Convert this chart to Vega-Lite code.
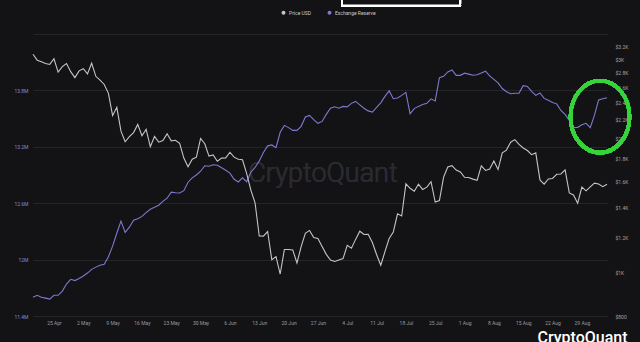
{
  "$schema": "https://vega.github.io/schema/vega-lite/v6.json",
  "width": 574,
  "height": 282,
  "autosize": "none",
  "padding": {"left": 33, "top": 34, "right": 33, "bottom": 26},
  "background": "#131316",
  "title": {
    "text": "CryptoQuant",
    "orient": "bottom",
    "anchor": "end",
    "frame": "bounds",
    "baseline": "top",
    "offset": 5,
    "dx": -9,
    "font": "Roboto",
    "fontSize": 16,
    "fontWeight": 500,
    "color": "#ffffff"
  },
  "config": {
    "view": {"stroke": null},
    "font": "Roboto",
    "axis": {"labelFont": "Roboto", "ticks": false, "domain": false, "labelFontSize": 5, "title": null},
    "legend": {
      "orient": "none",
      "legendX": 248,
      "legendY": -24,
      "direction": "horizontal",
      "title": null,
      "symbolType": "circle",
      "symbolSize": 4,
      "symbolStrokeWidth": 2,
      "labelFont": "Roboto",
      "labelFontSize": 5,
      "labelColor": "#c8c8c8",
      "labelOffset": 3,
      "columnPadding": 12
    }
  },
  "data": {
    "values": [
      {"date": "2022-04-20", "price": 3079, "reserve": 11600000},
      {"date": "2022-04-21", "price": 2987, "reserve": 11620000},
      {"date": "2022-04-22", "price": 2964, "reserve": 11600000},
      {"date": "2022-04-23", "price": 2937, "reserve": 11590000},
      {"date": "2022-04-24", "price": 2922, "reserve": 11580000},
      {"date": "2022-04-25", "price": 3009, "reserve": 11620000},
      {"date": "2022-04-26", "price": 2808, "reserve": 11620000},
      {"date": "2022-04-27", "price": 2889, "reserve": 11665000},
      {"date": "2022-04-28", "price": 2936, "reserve": 11740000},
      {"date": "2022-04-29", "price": 2815, "reserve": 11790000},
      {"date": "2022-04-30", "price": 2730, "reserve": 11777000},
      {"date": "2022-05-01", "price": 2827, "reserve": 11798000},
      {"date": "2022-05-02", "price": 2858, "reserve": 11825000},
      {"date": "2022-05-03", "price": 2784, "reserve": 11857000},
      {"date": "2022-05-04", "price": 2940, "reserve": 11896000},
      {"date": "2022-05-05", "price": 2749, "reserve": 11920000},
      {"date": "2022-05-06", "price": 2695, "reserve": 11940000},
      {"date": "2022-05-07", "price": 2636, "reserve": 11950000},
      {"date": "2022-05-08", "price": 2518, "reserve": 12030000},
      {"date": "2022-05-09", "price": 2245, "reserve": 12143000},
      {"date": "2022-05-10", "price": 2343, "reserve": 12280000},
      {"date": "2022-05-11", "price": 2072, "reserve": 12410000},
      {"date": "2022-05-12", "price": 1962, "reserve": 12290000},
      {"date": "2022-05-13", "price": 2014, "reserve": 12345000},
      {"date": "2022-05-14", "price": 2057, "reserve": 12420000},
      {"date": "2022-05-15", "price": 2146, "reserve": 12435000},
      {"date": "2022-05-16", "price": 2024, "reserve": 12460000},
      {"date": "2022-05-17", "price": 2091, "reserve": 12500000},
      {"date": "2022-05-18", "price": 1913, "reserve": 12536000},
      {"date": "2022-05-19", "price": 2017, "reserve": 12557000},
      {"date": "2022-05-20", "price": 1958, "reserve": 12578000},
      {"date": "2022-05-21", "price": 1975, "reserve": 12620000},
      {"date": "2022-05-22", "price": 2044, "reserve": 12653000},
      {"date": "2022-05-23", "price": 1972, "reserve": 12717000},
      {"date": "2022-05-24", "price": 1978, "reserve": 12711000},
      {"date": "2022-05-25", "price": 1946, "reserve": 12709000},
      {"date": "2022-05-26", "price": 1804, "reserve": 12733000},
      {"date": "2022-05-27", "price": 1725, "reserve": 12823000},
      {"date": "2022-05-28", "price": 1793, "reserve": 12870000},
      {"date": "2022-05-29", "price": 1813, "reserve": 12900000},
      {"date": "2022-05-30", "price": 1996, "reserve": 12940000},
      {"date": "2022-05-31", "price": 1942, "reserve": 12998000},
      {"date": "2022-06-01", "price": 1823, "reserve": 12993000},
      {"date": "2022-06-02", "price": 1834, "reserve": 13009000},
      {"date": "2022-06-03", "price": 1775, "reserve": 13003000},
      {"date": "2022-06-04", "price": 1804, "reserve": 12977000},
      {"date": "2022-06-05", "price": 1806, "reserve": 12950000},
      {"date": "2022-06-06", "price": 1859, "reserve": 12920000},
      {"date": "2022-06-07", "price": 1813, "reserve": 12855000},
      {"date": "2022-06-08", "price": 1793, "reserve": 12826000},
      {"date": "2022-06-09", "price": 1789, "reserve": 12870000},
      {"date": "2022-06-10", "price": 1665, "reserve": 12828000},
      {"date": "2022-06-11", "price": 1529, "reserve": 12930000},
      {"date": "2022-06-12", "price": 1433, "reserve": 12980000},
      {"date": "2022-06-13", "price": 1208, "reserve": 13050000},
      {"date": "2022-06-14", "price": 1207, "reserve": 13140000},
      {"date": "2022-06-15", "price": 1236, "reserve": 13210000},
      {"date": "2022-06-16", "price": 1069, "reserve": 13220000},
      {"date": "2022-06-17", "price": 1086, "reserve": 13190000},
      {"date": "2022-06-18", "price": 993, "reserve": 13354000},
      {"date": "2022-06-19", "price": 1127, "reserve": 13428000},
      {"date": "2022-06-20", "price": 1127, "reserve": 13404000},
      {"date": "2022-06-21", "price": 1124, "reserve": 13375000},
      {"date": "2022-06-22", "price": 1051, "reserve": 13375000},
      {"date": "2022-06-23", "price": 1144, "reserve": 13418000},
      {"date": "2022-06-24", "price": 1224, "reserve": 13518000},
      {"date": "2022-06-25", "price": 1243, "reserve": 13534000},
      {"date": "2022-06-26", "price": 1199, "reserve": 13490000},
      {"date": "2022-06-27", "price": 1193, "reserve": 13450000},
      {"date": "2022-06-28", "price": 1144, "reserve": 13470000},
      {"date": "2022-06-29", "price": 1099, "reserve": 13545000},
      {"date": "2022-06-30", "price": 1067, "reserve": 13610000},
      {"date": "2022-07-01", "price": 1059, "reserve": 13625000},
      {"date": "2022-07-02", "price": 1067, "reserve": 13610000},
      {"date": "2022-07-03", "price": 1075, "reserve": 13630000},
      {"date": "2022-07-04", "price": 1151, "reserve": 13625000},
      {"date": "2022-07-05", "price": 1134, "reserve": 13662000},
      {"date": "2022-07-06", "price": 1187, "reserve": 13683000},
      {"date": "2022-07-07", "price": 1238, "reserve": 13646000},
      {"date": "2022-07-08", "price": 1217, "reserve": 13610000},
      {"date": "2022-07-09", "price": 1218, "reserve": 13582000},
      {"date": "2022-07-10", "price": 1168, "reserve": 13570000},
      {"date": "2022-07-11", "price": 1098, "reserve": 13620000},
      {"date": "2022-07-12", "price": 1039, "reserve": 13667000},
      {"date": "2022-07-13", "price": 1114, "reserve": 13736000},
      {"date": "2022-07-14", "price": 1192, "reserve": 13795000},
      {"date": "2022-07-15", "price": 1233, "reserve": 13712000},
      {"date": "2022-07-16", "price": 1354, "reserve": 13720000},
      {"date": "2022-07-17", "price": 1339, "reserve": 13747000},
      {"date": "2022-07-18", "price": 1580, "reserve": 13779000},
      {"date": "2022-07-19", "price": 1544, "reserve": 13552000},
      {"date": "2022-07-20", "price": 1521, "reserve": 13606000},
      {"date": "2022-07-21", "price": 1577, "reserve": 13630000},
      {"date": "2022-07-22", "price": 1535, "reserve": 13650000},
      {"date": "2022-07-23", "price": 1553, "reserve": 13663000},
      {"date": "2022-07-24", "price": 1597, "reserve": 13710000},
      {"date": "2022-07-25", "price": 1439, "reserve": 13688000},
      {"date": "2022-07-26", "price": 1450, "reserve": 13935000},
      {"date": "2022-07-27", "price": 1636, "reserve": 13950000},
      {"date": "2022-07-28", "price": 1723, "reserve": 13996000},
      {"date": "2022-07-29", "price": 1735, "reserve": 14018000},
      {"date": "2022-07-30", "price": 1696, "reserve": 13960000},
      {"date": "2022-07-31", "price": 1680, "reserve": 13960000},
      {"date": "2022-08-01", "price": 1634, "reserve": 13983000},
      {"date": "2022-08-02", "price": 1632, "reserve": 13973000},
      {"date": "2022-08-03", "price": 1619, "reserve": 13962000},
      {"date": "2022-08-04", "price": 1609, "reserve": 13967000},
      {"date": "2022-08-05", "price": 1733, "reserve": 13986000},
      {"date": "2022-08-06", "price": 1693, "reserve": 14005000},
      {"date": "2022-08-07", "price": 1705, "reserve": 13954000},
      {"date": "2022-08-08", "price": 1777, "reserve": 13917000},
      {"date": "2022-08-09", "price": 1701, "reserve": 13880000},
      {"date": "2022-08-10", "price": 1853, "reserve": 13820000},
      {"date": "2022-08-11", "price": 1880, "reserve": 13786000},
      {"date": "2022-08-12", "price": 1958, "reserve": 13765000},
      {"date": "2022-08-13", "price": 1984, "reserve": 13770000},
      {"date": "2022-08-14", "price": 1936, "reserve": 13771000},
      {"date": "2022-08-15", "price": 1900, "reserve": 13850000},
      {"date": "2022-08-16", "price": 1876, "reserve": 13842000},
      {"date": "2022-08-17", "price": 1836, "reserve": 13790000},
      {"date": "2022-08-18", "price": 1853, "reserve": 13747000},
      {"date": "2022-08-19", "price": 1612, "reserve": 13773000},
      {"date": "2022-08-20", "price": 1578, "reserve": 13715000},
      {"date": "2022-08-21", "price": 1620, "reserve": 13694000},
      {"date": "2022-08-22", "price": 1624, "reserve": 13672000},
      {"date": "2022-08-23", "price": 1660, "reserve": 13657000},
      {"date": "2022-08-24", "price": 1662, "reserve": 13587000},
      {"date": "2022-08-25", "price": 1697, "reserve": 13545000},
      {"date": "2022-08-26", "price": 1508, "reserve": 13481000},
      {"date": "2022-08-27", "price": 1492, "reserve": 13404000},
      {"date": "2022-08-28", "price": 1430, "reserve": 13407000},
      {"date": "2022-08-29", "price": 1554, "reserve": 13434000},
      {"date": "2022-08-30", "price": 1524, "reserve": 13450000},
      {"date": "2022-08-31", "price": 1555, "reserve": 13404000},
      {"date": "2022-09-01", "price": 1586, "reserve": 13534000},
      {"date": "2022-09-02", "price": 1578, "reserve": 13699000},
      {"date": "2022-09-03", "price": 1557, "reserve": 13712000},
      {"date": "2022-09-04", "price": 1577, "reserve": 13722000}
    ]
  },
  "encoding": {
    "x": {
      "field": "date",
      "type": "temporal",
      "scale": {
        "type": "utc",
        "domain": [
          {"year": 2022, "month": 4, "date": 20, "utc": true},
          {"year": 2022, "month": 9, "date": 4, "utc": true}
        ]
      },
      "axis": {
        "labelExpr": "utcFormat(datum.value, '%-d %b')",
        "grid": false,
        "labelColor": "#9a9a9e",
        "labelPadding": 4,
        "values": [
          {"year": 2022, "month": 4, "date": 25, "utc": true},
          {"year": 2022, "month": 5, "date": 2, "utc": true},
          {"year": 2022, "month": 5, "date": 9, "utc": true},
          {"year": 2022, "month": 5, "date": 16, "utc": true},
          {"year": 2022, "month": 5, "date": 23, "utc": true},
          {"year": 2022, "month": 5, "date": 30, "utc": true},
          {"year": 2022, "month": 6, "date": 6, "utc": true},
          {"year": 2022, "month": 6, "date": 13, "utc": true},
          {"year": 2022, "month": 6, "date": 20, "utc": true},
          {"year": 2022, "month": 6, "date": 27, "utc": true},
          {"year": 2022, "month": 7, "date": 4, "utc": true},
          {"year": 2022, "month": 7, "date": 11, "utc": true},
          {"year": 2022, "month": 7, "date": 18, "utc": true},
          {"year": 2022, "month": 7, "date": 25, "utc": true},
          {"year": 2022, "month": 8, "date": 1, "utc": true},
          {"year": 2022, "month": 8, "date": 8, "utc": true},
          {"year": 2022, "month": 8, "date": 15, "utc": true},
          {"year": 2022, "month": 8, "date": 22, "utc": true},
          {"year": 2022, "month": 8, "date": 29, "utc": true}
        ]
      }
    }
  },
  "layer": [
    {
      "layer": [
        {
          "mark": {"type": "text", "text": "CryptoQuant", "font": "Roboto", "fontSize": 27, "fontWeight": 300, "color": "#2a2a2f", "align": "center", "baseline": "alphabetic"},
          "encoding": {
            "x": {"datum": {"year": 2022, "month": 6, "date": 28, "hours": 5, "utc": true}},
            "y": {"datum": 12823000}
          }
        },
        {
          "mark": {"type": "rect", "fill": "#131316", "stroke": "#ffffff", "strokeWidth": 2, "clip": false},
          "encoding": {
            "x": {"datum": {"year": 2022, "month": 7, "date": 2, "hours": 18, "utc": true}},
            "x2": {"datum": {"year": 2022, "month": 7, "date": 30, "hours": 22, "utc": true}},
            "y": {"datum": 14703000},
            "y2": {"datum": 14870000}
          }
        },
        {
          "mark": {"type": "line", "strokeWidth": 1.1},
          "encoding": {
            "y": {
              "field": "reserve",
              "type": "quantitative",
              "scale": {"domain": [11400000, 14400000], "nice": false, "zero": false},
              "axis": {
                "orient": "left",
                "values": [11400000, 12000000, 12600000, 13200000, 13800000, 14400000],
                "labelExpr": "datum.value >= 14400000 ? '' : format(datum.value / 1000000, '.1~f') + 'M'",
                "labelColor": "#8d8acb",
                "labelPadding": 5,
                "grid": true,
                "gridColor": "#252529",
                "gridWidth": 1
              }
            },
            "color": {
              "datum": "Exchange Reserve",
              "type": "nominal",
              "scale": {"domain": ["Price USD", "Exchange Reserve"], "range": ["#c4c4c6", "#7c79cf"]}
            }
          }
        },
        {
          "mark": {
            "type": "point",
            "shape": "M -0.82 0 A 0.82 1 0 1 1 0.82 0 A 0.82 1 0 1 1 -0.82 0 Z",
            "size": 5184,
            "filled": false,
            "stroke": "#35d43b",
            "strokeWidth": 3.5,
            "opacity": 1
          },
          "encoding": {
            "x": {"datum": {"year": 2022, "month": 9, "date": 2, "hours": 8, "utc": true}},
            "y": {"datum": 13520000}
          }
        }
      ]
    },
    {
      "mark": {"type": "line", "strokeWidth": 1.1},
      "encoding": {
        "y": {
          "field": "price",
          "type": "quantitative",
          "scale": {"type": "log", "domain": [800, 3418], "nice": false},
          "axis": {
            "orient": "right",
            "values": [800, 1000, 1200, 1400, 1600, 1800, 2000, 2200, 2400, 2600, 2800, 3000, 3200],
            "labelExpr": "datum.value < 1000 ? '$' + datum.value : '$' + format(datum.value / 1000, '.1~f') + 'K'",
            "labelColor": "#a2a2a6",
            "labelPadding": 8,
            "grid": false
          }
        },
        "color": {"datum": "Price USD", "type": "nominal"}
      }
    }
  ],
  "resolve": {"scale": {"y": "independent"}}
}
